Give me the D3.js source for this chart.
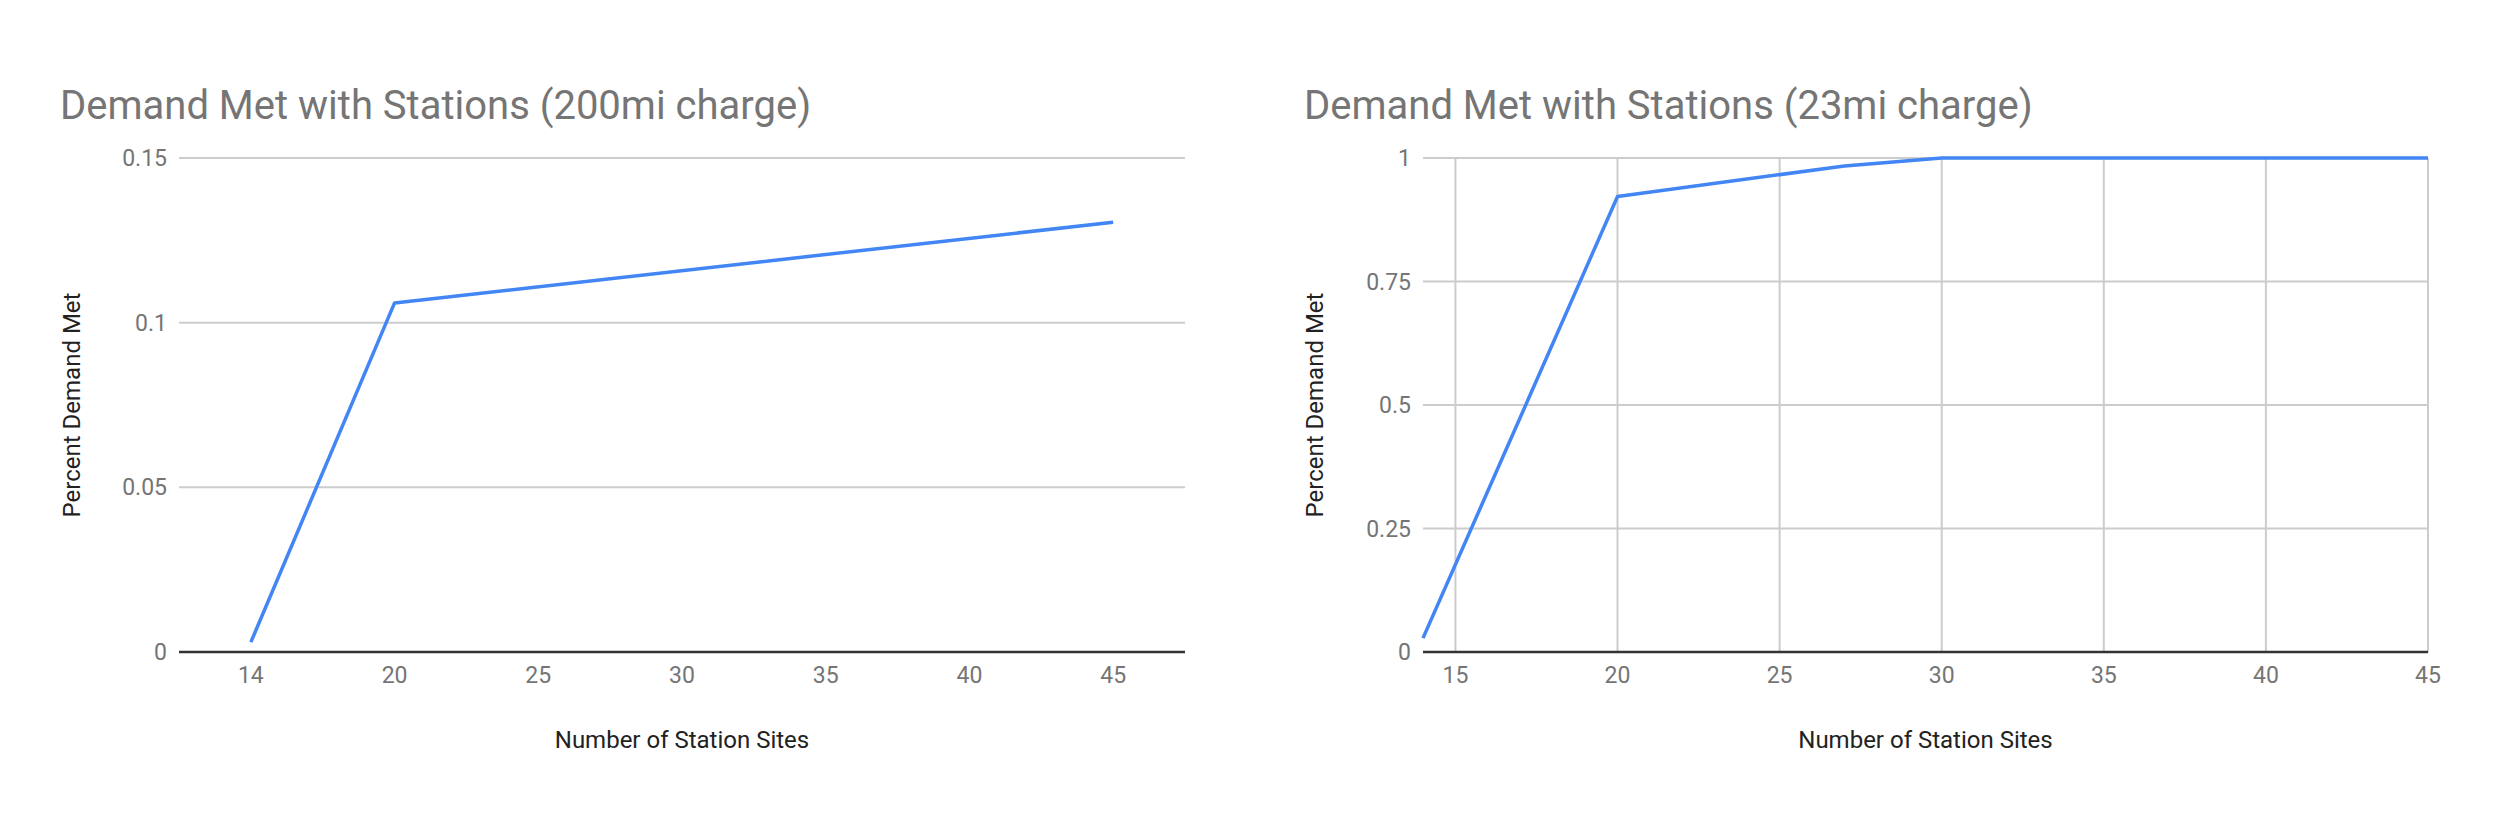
<!DOCTYPE html>
<html>
<head>
<meta charset="utf-8">
<script src="https://cdn.jsdelivr.net/npm/d3@7"></script>
<style>
  html, body { margin: 0; padding: 0; background: #fff; }
  svg { display: block; font-family: Roboto, "Noto Sans", sans-serif; }
</style>
</head>
<body>
<svg id="chart" width="2500" height="833"></svg>
<script>
// ---- Data ----
const leftTitle = "Demand Met with Stations (200mi charge)";
const leftCategories = ["14", "20", "25", "30", "35", "40", "45"];
const leftValues = [0.003, 0.106, null, null, null, null, 0.1305];
const leftYTicks = [0, 0.05, 0.1, 0.15];

const rightTitle = "Demand Met with Stations (23mi charge)";
const rightX = [14, 20, 27, 30, 35, 40, 45];
const rightValues = [0.028, 0.922, 0.984, 1, 1, 1, 1];
const rightXTicks = [15, 20, 25, 30, 35, 40, 45];
const rightYTicks = [0, 0.25, 0.5, 0.75, 1];

const xTitle = "Number of Station Sites";
const yTitle = "Percent Demand Met";

// ---- Styles ----
const lineColor = "#4285f4";
const gridColor = "#cccccc";
const axisColor = "#333333";
const tickColor = "#757575";
const titleColor = "#757575";
const axisTitleColor = "#222222";

const svg = d3.select("#chart");
const plotTop = 158, plotBottom = 652;

function drawPanel(opts) {
  const g = svg.append("g");
  const y = d3.scaleLinear().domain(opts.yDomain).range([plotBottom, plotTop]);
  const x = opts.x;

  g.append("g").selectAll("line").data(opts.yTicks.filter(d => d !== 0)).join("line")
    .attr("x1", opts.left).attr("x2", opts.right)
    .attr("y1", d => y(d)).attr("y2", d => y(d))
    .attr("stroke", gridColor).attr("stroke-width", 2);

  if (opts.xGridTicks) {
    g.append("g").selectAll("line").data(opts.xGridTicks).join("line")
      .attr("x1", d => x(d)).attr("x2", d => x(d))
      .attr("y1", plotTop).attr("y2", plotBottom)
      .attr("stroke", gridColor).attr("stroke-width", 2);
  }

  g.append("g").selectAll("text").data(opts.yTicks).join("text")
    .attr("x", opts.left - 12).attr("y", d => y(d))
    .attr("dy", "0.35em").attr("text-anchor", "end")
    .attr("font-size", 23).attr("fill", tickColor)
    .text(d => d3.format("~g")(d));

  g.append("g").selectAll("text").data(opts.xTickValues).join("text")
    .attr("x", d => x(d)).attr("y", 683)
    .attr("text-anchor", "middle")
    .attr("font-size", 23).attr("fill", tickColor)
    .text(d => d);

  const pts = opts.points.filter(p => p[1] !== null);
  g.append("path").datum(pts)
    .attr("fill", "none").attr("stroke", lineColor).attr("stroke-width", 3.5)
    .attr("stroke-linejoin", "round")
    .attr("d", d3.line().x(p => x(p[0])).y(p => y(p[1])));

  g.append("line")
    .attr("x1", opts.left).attr("x2", opts.right)
    .attr("y1", y(0)).attr("y2", y(0))
    .attr("stroke", axisColor).attr("stroke-width", 2.5);

  g.append("text").attr("x", opts.titleX).attr("y", 119)
    .attr("font-size", 40).attr("fill", titleColor).text(opts.title);

  g.append("text").attr("x", (opts.left + opts.right) / 2).attr("y", 748)
    .attr("text-anchor", "middle").attr("font-size", 24).attr("fill", axisTitleColor)
    .text(xTitle);

  g.append("text")
    .attr("transform", `translate(${opts.yTitleX},${(plotTop + plotBottom) / 2}) rotate(-90)`)
    .attr("text-anchor", "middle").attr("font-size", 24).attr("fill", axisTitleColor)
    .text(yTitle);
}

const leftL = 179, leftR = 1185;
const xLeft = d3.scalePoint().domain(leftCategories).range([leftL, leftR]).padding(0.5);
drawPanel({
  left: leftL, right: leftR, x: xLeft,
  yDomain: [0, 0.15], yTicks: leftYTicks,
  xTickValues: leftCategories,
  points: leftCategories.map((c, i) => [c, leftValues[i]]),
  title: leftTitle, titleX: 60, yTitleX: 80
});

const rightL = 1423, rightR = 2428;
const xRight = d3.scaleLinear().domain([14, 45]).range([rightL, rightR]);
drawPanel({
  left: rightL, right: rightR, x: xRight,
  yDomain: [0, 1], yTicks: rightYTicks,
  xTickValues: rightXTicks, xGridTicks: rightXTicks,
  points: rightX.map((v, i) => [v, rightValues[i]]),
  title: rightTitle, titleX: 1304, yTitleX: 1323
});
</script>
</body>
</html>
